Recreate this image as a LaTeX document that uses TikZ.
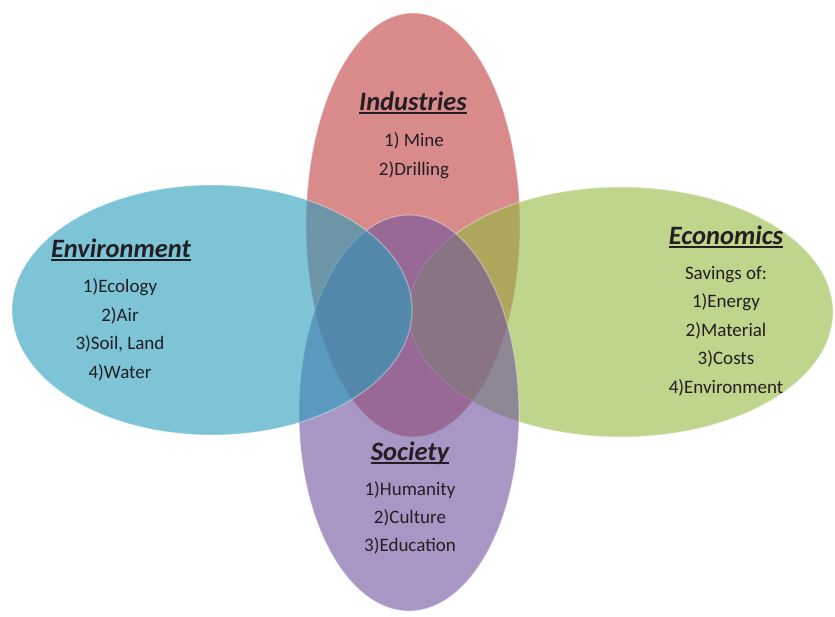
\documentclass[tikz,border=0pt]{standalone}
\usepackage{fontspec}
\setmainfont{Carlito}
\definecolor{indC}{RGB}{193,60,60}
\definecolor{envC}{RGB}{38,157,187}
\definecolor{ecoC}{RGB}{147,185,63}
\definecolor{socC}{RGB}{110,83,157}
\definecolor{txtC}{RGB}{34,30,34}
\tikzset{
  blob/.style={fill opacity=0.6, draw=white, draw opacity=0.35, line width=1.2pt},
  heading/.style={font=\fontsize{26.5}{30}\selectfont\bfseries\itshape, text=txtC, inner sep=0pt},
  item/.style={font=\fontsize{19}{23}\selectfont, text=txtC, inner sep=0pt, text height=13pt, text depth=4pt}
}
\newcommand{\hd}[1]{\setbox0\hbox{#1}\rlap{\rule[-3.5pt]{\wd0}{1.6pt}}\box0}
\begin{document}
\begin{tikzpicture}[x=1pt,y=-1pt]
\useasboundingbox (0,0) rectangle (835,617);
\fill[white] (0,0) rectangle (835,617);
% ellipses (bottom to top)
\filldraw[blob, fill=indC] (413,225) ellipse [x radius=107pt, y radius=212pt];
\filldraw[blob, fill=ecoC] (621,312) ellipse [x radius=212pt, y radius=125pt];
\filldraw[blob, fill=socC] (409,413) ellipse [x radius=110pt, y radius=198pt];
\filldraw[blob, fill=envC] (212,310) ellipse [x radius=200pt, y radius=125pt];
% Industries
\node[heading] (indh) at (413,103) {\hd{Industries}};
\foreach \t [count=\i] in {1) Mine, 2)Drilling}
  \node[item] (ind\i) at (414,142+28.8*\i-28.8) {\t};
% Environment
\node[heading] (envh) at (121,250) {\hd{Environment}};
\foreach \t [count=\i] in {1)Ecology, 2)Air, {3)Soil, Land}, 4)Water}
  \node[item] (env\i) at (120,288+28.7*\i-28.7) {\t};
% Economics
\node[heading] (ecoh) at (726,237) {\hd{Economics}};
\foreach \t [count=\i] in {Savings of:, 1)Energy, 2)Material, 3)Costs, 4)Environment}
  \node[item] (eco\i) at (726,275+28.5*\i-28.5) {\t};
% Society
\node[heading] (soch) at (410,453) {\hd{Society}};
\foreach \t [count=\i] in {1)Humanity, 2)Culture, 3)Education}
  \node[item] (soc\i) at (410,491+28*\i-28) {\t};
\end{tikzpicture}
\end{document}
